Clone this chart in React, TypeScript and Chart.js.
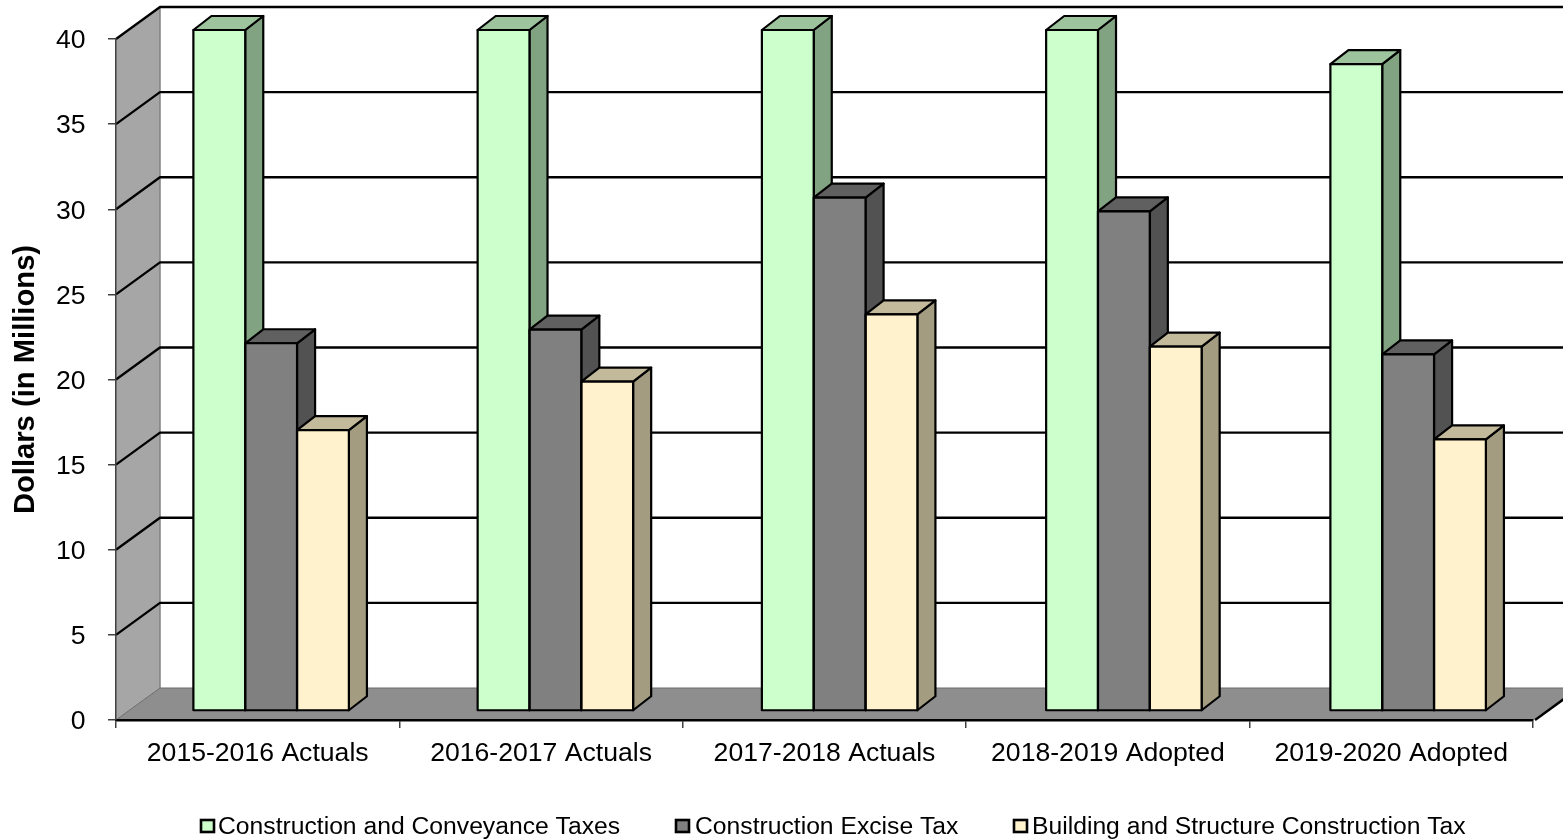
import React, { useEffect, useRef } from "react";
import { Chart, registerables } from "chart.js";

Chart.register(...registerables);

const categories = ["2015-2016 Actuals", "2016-2017 Actuals", "2017-2018 Actuals", "2018-2019 Adopted", "2019-2020 Adopted"];
const conveyance = [40, 40, 40, 40, 38];
const excise = [21.6, 22.4, 30.15, 29.35, 20.95];
const building = [16.5, 19.35, 23.3, 21.4, 15.95];
const seriesNames = ["Construction and Conveyance Taxes", "Construction Excise Tax", "Building and Structure Construction Tax"];
const frontColors = ["#CCFFCC", "#808080", "#FFF2CC"];
const topColors = ["#9DC49D", "#606060", "#C3B99B"];
const sideColors = ["#82A382", "#525252", "#A39C80"];
const yTicks = [0, 5, 10, 15, 20, 25, 30, 35, 40];

const FONT = "'Liberation Sans', Arial, sans-serif";
const TICK_SIZE = 26.6;
const TITLE_SIZE = 29.2;
const LEGEND_SIZE = 24.7;
const WALL_DX = 44;
const WALL_DY = 32;
const BAR_DX = 13;
const BAR_DY = 9;
const BAR_STRETCH = 1.003;
const DEPTH_X = 18;
const DEPTH_Y = 14;
const LEGEND_BOX_X = [200, 675, 1013];
const LEGEND_TEXT_X = [218, 695, 1032];

function poly(ctx: CanvasRenderingContext2D, pts: number[][], fill: string | null, stroke: string | null, lw = 1) {
  ctx.beginPath();
  pts.forEach((p, i) => (i ? ctx.lineTo(p[0], p[1]) : ctx.moveTo(p[0], p[1])));
  if (fill) {
    ctx.closePath();
    ctx.fillStyle = fill;
    ctx.fill();
  }
  if (stroke) {
    ctx.strokeStyle = stroke;
    ctx.lineWidth = lw;
    ctx.stroke();
  }
}

const box3d = {
  id: "box3d",
  beforeDraw(chart: any) {
    const { ctx, chartArea: a, scales } = chart;
    const { left: L, right: R, top: T, bottom: B } = a;
    const W = chart.width + 60;
    ctx.save();
    ctx.lineJoin = "round";
    poly(ctx, [[L, T], [L + WALL_DX, T - WALL_DY], [L + WALL_DX, B - WALL_DY], [L, B]], "#A6A6A6", null);
    poly(ctx, [[L, B], [L + WALL_DX, B - WALL_DY], [W, B - WALL_DY], [R + WALL_DX, B - WALL_DY], [R, B]], "#8E8E8E", null);
    poly(ctx, [[L + WALL_DX, T - WALL_DY], [L + WALL_DX, B - WALL_DY]], null, "#808080", 1.5);
    poly(ctx, [[L, B], [L + WALL_DX, B - WALL_DY], [W, B - WALL_DY]], null, "#6A6A6A", 1);
    scales.y.ticks.forEach((t: any) => {
      if (t.value === 0) return;
      const y = scales.y.getPixelForValue(t.value);
      poly(ctx, [[L, y], [L + WALL_DX, y - WALL_DY], [W, y - WALL_DY]], null, "#000000", 2.3);
    });
    poly(ctx, [[R + 2, B], [R + 2 + WALL_DX, B - WALL_DY]], null, "#000000", 2.5);
    ctx.restore();
  },
  beforeDatasetsDraw(chart: any) {
    const { ctx, chartArea } = chart;
    ctx.save();
    ctx.translate(BAR_DX + chartArea.left * (1 - BAR_STRETCH), -BAR_DY);
    ctx.scale(BAR_STRETCH, 1);
    ctx.lineJoin = "round";
    categories.forEach((_, j) => {
      chart.data.datasets.forEach((_d: any, i: number) => {
        const b = chart.getDatasetMeta(i).data[j];
        const l = b.x - b.width / 2;
        const r = b.x + b.width / 2;
        poly(ctx, [[r, b.y], [r + DEPTH_X, b.y - DEPTH_Y], [r + DEPTH_X, b.base - DEPTH_Y], [r, b.base]], sideColors[i], "#000000", 2.2);
        poly(ctx, [[l, b.y], [l + DEPTH_X, b.y - DEPTH_Y], [r + DEPTH_X, b.y - DEPTH_Y], [r, b.y]], topColors[i], "#000000", 2.2);
      });
    });
  },
  afterDatasetsDraw(chart: any) {
    const { ctx } = chart;
    ctx.strokeStyle = "#000000";
    ctx.lineWidth = 2.2;
    chart.data.datasets.forEach((_d: any, i: number) => {
      chart.getDatasetMeta(i).data.forEach((b: any) => {
        ctx.strokeRect(b.x - b.width / 2, b.y, b.width, b.base - b.y);
      });
    });
    ctx.restore();
  },
  afterDraw(chart: any) {
    const { ctx } = chart;
    ctx.save();
    ctx.font = `${LEGEND_SIZE}px ${FONT}`;
    ctx.textBaseline = "middle";
    chart.data.datasets.forEach((d: any, i: number) => {
      const x = LEGEND_BOX_X[i];
      ctx.fillStyle = frontColors[i];
      ctx.fillRect(x + 1, 820, 13, 12);
      ctx.strokeStyle = "#000000";
      ctx.lineWidth = 2.6;
      ctx.strokeRect(x + 1, 820, 13, 12);
      ctx.fillStyle = "#000000";
      ctx.fillText(d.label, LEGEND_TEXT_X[i], 827);
    });
    ctx.restore();
  },
};

export default function App() {
  const ref = useRef<HTMLCanvasElement | null>(null);
  useEffect(() => {
    const chart = new Chart(ref.current as HTMLCanvasElement, {
      type: "bar",
      data: {
        labels: categories,
        datasets: [conveyance, excise, building].map((data, i) => ({
          label: seriesNames[i],
          data,
          backgroundColor: frontColors[i],
          borderWidth: 0,
          categoryPercentage: 0.547,
          barPercentage: 1,
          clip: false as any,
        })),
      },
      options: {
        responsive: false,
        animation: false,
        devicePixelRatio: 1,
        layout: { padding: { top: 39, right: 30, left: 0, bottom: 0 } },
        plugins: { legend: { display: false }, tooltip: { enabled: false } },
        scales: {
          x: {
            afterFit: (s: any) => { s.height = 120; },
            grid: { drawOnChartArea: false, drawTicks: true, tickLength: 8, color: "#404040", lineWidth: 1.5 },
            border: { color: "#000000", width: 2.5 },
            ticks: { color: "#000000", font: { family: FONT, size: TICK_SIZE }, padding: 10, maxRotation: 0 },
          },
          y: {
            min: 0,
            max: 40,
            afterFit: (s: any) => { s.width = 116; },
            afterBuildTicks: (s: any) => { s.ticks = yTicks.map((value) => ({ value })); },
            grid: { drawOnChartArea: false, drawTicks: true, tickLength: 8, color: "#404040", lineWidth: 1.5 },
            border: { color: "#404040", width: 1.5 },
            ticks: { color: "#000000", font: { family: FONT, size: TICK_SIZE }, padding: 22.5, labelOffset: 2 },
            title: {
              display: true,
              text: "Dollars (in Millions)",
              color: "#000000",
              font: { family: FONT, size: TITLE_SIZE, weight: "bold" },
              padding: { top: 8.6, bottom: 0 },
            },
          },
        },
      },
      plugins: [box3d],
    } as any);
    return () => chart.destroy();
  }, []);
  return (
    <canvas
      ref={ref}
      width={1563}
      height={840}
      style={{ position: "absolute", left: 0, top: 0, width: 1563, height: 840 }}
    />
  );
}
